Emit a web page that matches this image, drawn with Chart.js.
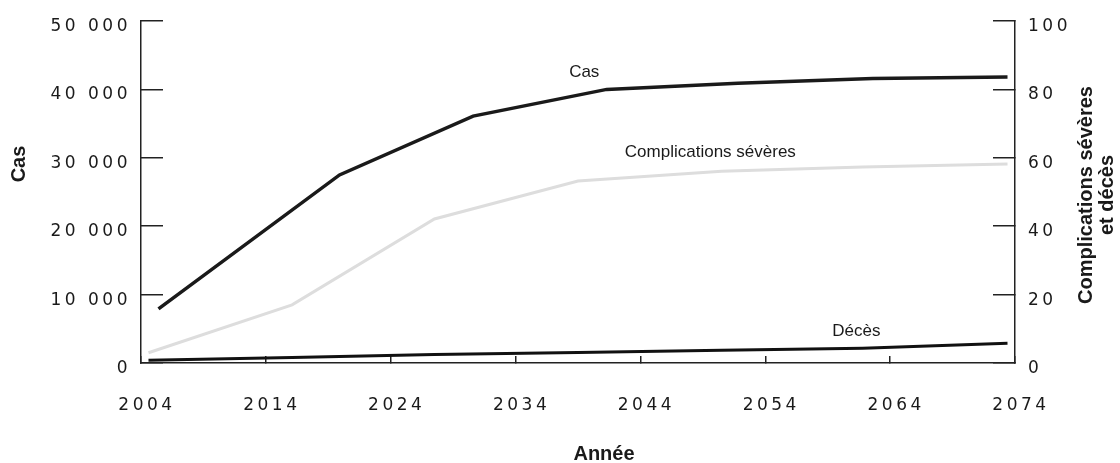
<!DOCTYPE html>
<html>
<head>
<meta charset="utf-8">
<script src="https://cdn.jsdelivr.net/npm/chart.js@4"></script>
<style>
  body { margin: 0; background: #fff; }
</style>
</head>
<body>
<canvas id="chart" width="1120" height="463"></canvas>
<script>
/* DATA */
const casYears    = [2005.4, 2019.9, 2030.6, 2041.3, 2051.8, 2062.6, 2073.4];
const casValues   = [7900, 27500, 36100, 40000, 40900, 41600, 41800];
const compYears   = [2004.6, 2016.1, 2027.5, 2039.0, 2050.5, 2061.8, 2073.4];
const compValues  = [3.0, 17.0, 42.1, 53.2, 56.1, 57.3, 58.2];
const decesYears  = [2004.6, 2016.1, 2027.5, 2039.0, 2050.5, 2061.8, 2073.4];
const decesValues = [0.8, 1.6, 2.5, 3.1, 3.7, 4.3, 5.8];

const yearTicks  = [2004, 2014, 2024, 2034, 2044, 2054, 2064, 2074];
const casTicks   = [0, 10000, 20000, 30000, 40000, 50000];
const rightTicks = [0, 20, 40, 60, 80, 100];

/* label anchors, in data units */
const casLabel   = { text: "Cas", x: 2039.5, y: 42500 };
const compLabel  = { text: "Complications sévères", x: 2049.6, y: 61.7 };
const decesLabel = { text: "Décès", x: 2061.3, y: 9.4 };

const pts = (xs, ys) => xs.map((x, i) => ({ x: x, y: ys[i] }));
const fmtCas = v => v === 0 ? "0" : (v / 1000) + " 000";

const axisColor = "#222";
const tickSpacing = "3.5px";

/* wide tick lettering, plain text everywhere else */
const spacing = {
  id: "spacing",
  beforeLayout(chart) { chart.ctx.letterSpacing = tickSpacing; },
  afterLayout(chart) { chart.ctx.letterSpacing = "0px"; },
  beforeDraw(chart) { chart.ctx.letterSpacing = tickSpacing; },
  beforeDatasetsDraw(chart) { chart.ctx.letterSpacing = "0px"; }
};

/* axis titles and line labels */
const texts = {
  id: "texts",
  afterDraw(chart) {
    const ctx = chart.ctx;
    const sx = chart.scales.x, sy = chart.scales.y, sy2 = chart.scales.y2;
    ctx.save();
    ctx.letterSpacing = "0px";
    ctx.fillStyle = "#1a1a1a";
    ctx.textAlign = "center";
    ctx.textBaseline = "middle";

    ctx.font = "17px 'Liberation Sans', Arial, sans-serif";
    ctx.fillText(casLabel.text, sx.getPixelForValue(casLabel.x), sy.getPixelForValue(casLabel.y));
    ctx.fillText(compLabel.text, sx.getPixelForValue(compLabel.x), sy2.getPixelForValue(compLabel.y));
    ctx.fillText(decesLabel.text, sx.getPixelForValue(decesLabel.x), sy2.getPixelForValue(decesLabel.y));

    ctx.font = "bold 20px 'Liberation Sans', Arial, sans-serif";
    ctx.fillText("Année", 604, 454);

    ctx.save();
    ctx.translate(19, 164);
    ctx.rotate(-Math.PI / 2);
    ctx.fillText("Cas", 0, 0);
    ctx.restore();

    ctx.save();
    ctx.translate(1097, 195);
    ctx.rotate(-Math.PI / 2);
    ctx.fillText("Complications sévères", 0, -10.5);
    ctx.fillText("et décès", 0, 10.5);
    ctx.restore();

    ctx.restore();
  }
};

const tickFont = { family: "'DejaVu Sans', sans-serif", size: 17 };

// fixed axis sizes, and no extra room for the end labels
const fixY = w => s => { s.width = w; s.paddingTop = 0; s.paddingBottom = 0; };

new Chart(document.getElementById("chart"), {
  type: "line",
  data: {
    datasets: [
      {
        label: "Complications sévères",
        data: pts(compYears, compValues),
        yAxisID: "y2",
        borderColor: "#dddddd",
        borderWidth: 3,
        pointRadius: 0,
        tension: 0
      },
      {
        label: "Cas",
        data: pts(casYears, casValues),
        yAxisID: "y",
        borderColor: "#1a1a1a",
        borderWidth: 3.5,
        pointRadius: 0,
        tension: 0
      },
      {
        label: "Décès",
        data: pts(decesYears, decesValues),
        yAxisID: "y2",
        borderColor: "#111",
        borderWidth: 3,
        pointRadius: 0,
        tension: 0
      }
    ]
  },
  options: {
    responsive: false,
    animation: false,
    layout: { padding: { top: 21, left: 0, right: 0, bottom: 0 } },
    plugins: {
      legend: { display: false },
      tooltip: { enabled: false }
    },
    scales: {
      x: {
        type: "linear",
        min: 2004,
        max: 2074,
        afterBuildTicks: s => { s.ticks = yearTicks.map(v => ({ value: v })); },
        afterFit: s => { s.height = 100; s.paddingLeft = 0; s.paddingRight = 0; },
        ticks: {
          callback: v => String(v),
          color: "#1a1a1a",
          font: tickFont,
          padding: 39,
          labelOffset: 6,
          autoSkip: false,
          maxRotation: 0
        },
        grid: { drawOnChartArea: false, tickLength: -7, color: axisColor, lineWidth: 1.5 },
        border: { color: axisColor, width: 1.5 }
      },
      y: {
        position: "left",
        min: 0,
        max: 50000,
        afterBuildTicks: s => { s.ticks = casTicks.map(v => ({ value: v })); },
        afterFit: fixY(141),
        ticks: {
          callback: fmtCas,
          color: "#1a1a1a",
          font: tickFont,
          padding: 32,
          labelOffset: 5.5
        },
        grid: { drawOnChartArea: false, tickLength: -22, color: axisColor, lineWidth: 1.5 },
        border: { color: axisColor, width: 1.5 }
      },
      y2: {
        position: "right",
        min: 0,
        max: 100,
        afterBuildTicks: s => { s.ticks = rightTicks.map(v => ({ value: v })); },
        afterFit: fixY(105),
        ticks: {
          callback: v => String(v),
          color: "#1a1a1a",
          font: tickFont,
          padding: 35,
          labelOffset: 5.5
        },
        grid: { drawOnChartArea: false, tickLength: -22, color: axisColor, lineWidth: 1.5 },
        border: { color: axisColor, width: 1.5 }
      }
    }
  },
  plugins: [spacing, texts]
});
</script>
</body>
</html>
